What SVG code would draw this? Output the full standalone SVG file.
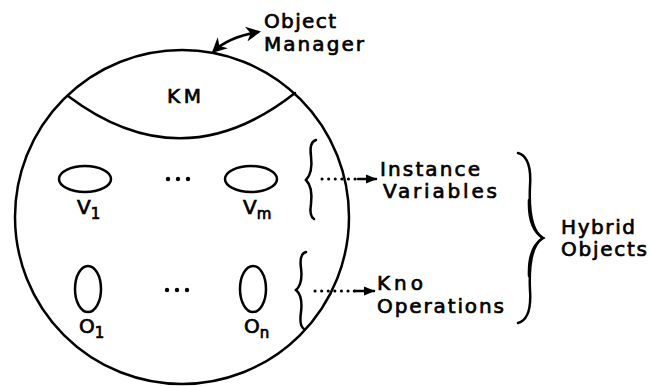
<svg xmlns="http://www.w3.org/2000/svg" width="649" height="386" viewBox="0 0 649 386">
<style>
.ln{fill:none;stroke:#000;stroke-width:2.5;stroke-linecap:round}
.t{font-family:"DejaVu Sans",sans-serif;font-size:20px;fill:#000;stroke:#000;stroke-width:0.7}
.sub{font-size:15px}
.dot{fill:none;stroke:#000;stroke-width:3;stroke-linecap:round;stroke-dasharray:0.1,6.5}
</style>
<defs>
<marker id="ah" viewBox="0 0 10 10" refX="8" refY="5" markerWidth="6" markerHeight="6" orient="auto-start-reverse" markerUnits="strokeWidth">
<path d="M0,0 L10,5 L0,10 L3,5 Z" fill="#000"/>
</marker>
<marker id="ah2" viewBox="0 0 10 10" refX="9" refY="5" markerWidth="4.5" markerHeight="4.5" orient="auto" markerUnits="strokeWidth">
<path d="M0,1 L10,5 L0,9 Z" fill="#000"/>
</marker>
</defs>
<g id="object">
<circle cx="182" cy="217" r="167" class="ln"/>
</g>
<g id="km">
<path d="M68,96 Q182,182 295,93" class="ln"/>
<text x="184" y="103" class="t" font-size="18" text-anchor="middle" textLength="34" lengthAdjust="spacing">KM</text>
</g>
<g id="v1">
<ellipse cx="85" cy="179" rx="26" ry="13" class="ln" stroke-width="2"/>
<text x="77" y="214" class="t">V<tspan class="sub" dy="5">1</tspan></text>
</g>
<g id="vm">
<ellipse cx="251" cy="179" rx="26" ry="13" class="ln" stroke-width="2"/>
<text x="243" y="214" class="t">V<tspan class="sub" dy="5">m</tspan></text>
</g>
<g id="o1">
<ellipse cx="88" cy="289" rx="13" ry="23" class="ln" stroke-width="2"/>
<text x="79" y="333" class="t">O<tspan class="sub" dy="5">1</tspan></text>
</g>
<g id="on">
<ellipse cx="253" cy="289" rx="13" ry="23" class="ln" stroke-width="2"/>
<text x="244" y="333" class="t">O<tspan class="sub" dy="5">n</tspan></text>
</g>
<g id="dots" fill="#000">
<circle cx="168" cy="179" r="2.2"/><circle cx="178" cy="179" r="2.2"/><circle cx="188" cy="179" r="2.2"/>
<circle cx="167" cy="290" r="2.2"/><circle cx="177" cy="290" r="2.2"/><circle cx="187" cy="290" r="2.2"/>
</g>
<g id="labels">
<text x="264" y="28" class="t" textLength="72" lengthAdjust="spacing">Object</text>
<text x="264" y="51" class="t" textLength="100" lengthAdjust="spacing">Manager</text>
<text x="380" y="176" class="t" textLength="100" lengthAdjust="spacing">Instance</text>
<text x="383" y="198" class="t" textLength="114" lengthAdjust="spacing">Variables</text>
<text x="377" y="290" class="t" textLength="46" lengthAdjust="spacing">Kno</text>
<text x="377" y="313" class="t" textLength="127" lengthAdjust="spacing">Operations</text>
<text x="561" y="234" class="t" textLength="74" lengthAdjust="spacing">Hybrid</text>
<text x="561" y="256" class="t" textLength="86" lengthAdjust="spacing">Objects</text>
</g>
<g id="connectors">
<path d="M214,51 Q229,37 258,32" class="ln" marker-start="url(#ah)" marker-end="url(#ah)"/>
<path d="M316,140 Q309,142 311,156 Q313,173 306,180 Q313,187 311,204 Q309,216 314,219" class="ln" stroke-width="2"/>
<path d="M306,252 Q299,254 301,268 Q303,284 296,290 Q303,296 301,312 Q299,326 304,329" class="ln" stroke-width="2"/>
<path d="M518,153 Q532,157 530,186 Q528,229 543,238 Q528,247 530,290 Q532,319 518,323" class="ln" stroke-width="3"/>
<path d="M529,200 Q528,229 543,238 Q528,247 529,276" class="ln" stroke-width="4.5"/>
<line x1="322" y1="179" x2="360" y2="179" class="dot"/>
<line x1="358" y1="179" x2="376" y2="179" class="ln" stroke-width="2" marker-end="url(#ah2)"/>
<line x1="315" y1="291" x2="356" y2="291" class="dot"/>
<line x1="354" y1="291" x2="374" y2="291" class="ln" stroke-width="2" marker-end="url(#ah2)"/>
</g>
</svg>
